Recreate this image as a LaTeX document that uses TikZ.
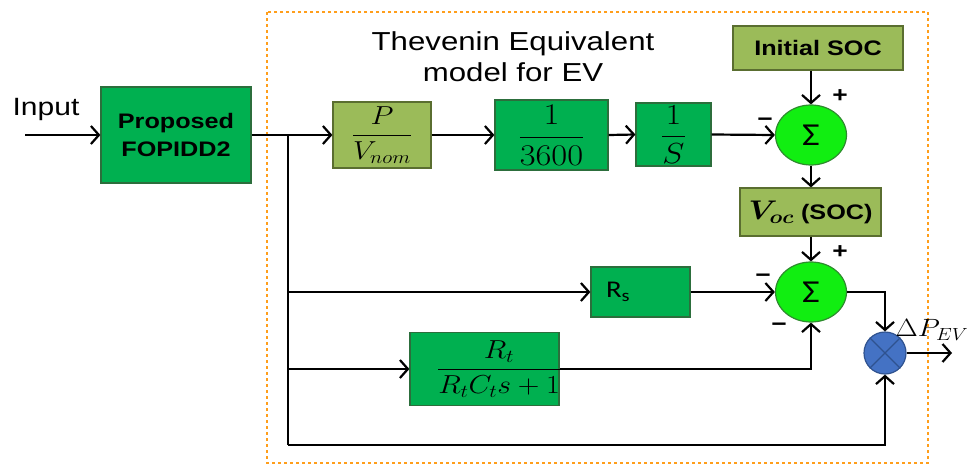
\RequirePackage{fix-cm}
\documentclass[tikz,border=0pt]{standalone}
\usepackage{amsmath}
\usepackage{fontspec}
\setmainfont{Liberation Sans}[FakeStretch=1.2]
\newfontfamily\calib{Carlito}[FakeStretch=1.2]
\usetikzlibrary{arrows.meta,shapes.geometric}
\newcommand{\wmath}[1]{\scalebox{1.15}[1]{#1}}
\definecolor{gfill}{HTML}{00B050}
\definecolor{gbord}{HTML}{2C6E3C}
\definecolor{ofill}{HTML}{9BBB59}
\definecolor{obord}{HTML}{5A6E30}
\definecolor{sfill}{HTML}{11EE11}
\definecolor{sbord}{HTML}{2E8B2E}
\definecolor{bfill}{HTML}{4472C4}
\definecolor{bbord}{HTML}{2F528F}
\definecolor{dorange}{HTML}{FF9E1B}
\begin{document}
\begin{tikzpicture}[x=1pt,y=-1pt,
  wire/.style={line width=2.2pt, black},
  arr/.style={wire,-{Straight Barb[length=8pt,width=18pt]}},
  gbox/.style={draw=gbord, fill=gfill, line width=1.2pt, inner sep=0pt},
  obox/.style={draw=obord, fill=ofill, line width=1.2pt, inner sep=0pt},
  sumnode/.style={ellipse, draw=sbord, fill=sfill, line width=1.2pt, minimum width=71pt, minimum height=60pt, inner sep=0pt},
  sgn/.style={font=\fontsize{22}{22}\selectfont\bfseries, inner sep=0pt}
]
\useasboundingbox (0,0) rectangle (972,466);

% dotted frame
\draw[dorange, line width=2.6pt, dash pattern=on 3pt off 3pt] (267,12) rectangle (928,463);

\node[font=\fontsize{25}{30}\selectfont] (inp) at (46,109) {Input};
\coordinate (in0) at (25,135);
\node[gbox, minimum width=150pt, minimum height=96pt, align=center, font=\fontsize{21}{28}\selectfont\bfseries] (pid) at (176,135) {Proposed\\FOPIDD2};

\node[font=\fontsize{26}{31}\selectfont, align=center] (title) at (513,57) {Thevenin Equivalent\\model for EV};

\node[obox, minimum width=98pt, minimum height=66pt, font=\fontsize{26}{30}\selectfont] (pv) at (382,135) {\wmath{$\dfrac{P}{V_{nom}}$}};
\node[gbox, minimum width=113pt, minimum height=70pt, font=\fontsize{30}{34}\selectfont] (k) at (551.5,135) {\wmath{$\dfrac{1}{3600}$}};
\node[gbox, minimum width=75pt, minimum height=63pt, font=\fontsize{29}{33}\selectfont] (int) at (673.5,134.5) {\wmath{$\dfrac{1}{S}$}};
\node[sumnode] (s1) at (811,135) {{\calib\fontsize{32}{32}\selectfont Σ}};
\node[obox, minimum width=170pt, minimum height=44pt, font=\bfseries\fontsize{21}{24}\selectfont] (soc) at (818,48) {Initial SOC};
\node[obox, minimum width=141pt, minimum height=48pt, font=\bfseries\fontsize{21}{24}\selectfont] (voc) at (810.5,212) {{\fontsize{27}{30}\selectfont\wmath{$\boldsymbol{V_{oc}}$}} (SOC)};
\node[sumnode] (s2) at (811,292) {{\calib\fontsize{32}{32}\selectfont Σ}};
\node[gbox, minimum width=99pt, minimum height=50pt, text width=69pt, align=left, font=\calib\fontsize{24}{28}\selectfont] (rs) at (640.5,292) {R{\fontsize{17}{17}\selectfont\raisebox{-4pt}{s}}};
\node[gbox, minimum width=149pt, minimum height=73pt] (rt) at (484.5,369) {};
\node[inner sep=0pt, font=\fontsize{26}{30}\selectfont] (rtf) at (499,369) {\wmath{$\dfrac{R_t}{R_tC_ts+1}$}};

\node[circle, draw=bbord, fill=bfill, line width=1.2pt, minimum size=42pt, inner sep=0pt] (mul) at (885,353) {};
\draw[bbord, line width=1.2pt] (mul.45) -- (mul.225) (mul.135) -- (mul.315);
\coordinate (out) at (952,353);
\node[font=\fontsize{25}{28}\selectfont, inner sep=0pt] (dp) at (932,330) {\wmath{$\Delta P_{EV}$}};

\node[sgn] (m1) at (765,122) {−};
\node[sgn] (p1) at (840,96) {+};
\node[sgn] (p2) at (840,252) {+};
\node[sgn] (m2) at (763,278) {−};
\node[sgn] (m3) at (779,327) {−};

\coordinate (b1) at (288,135);
\coordinate (b2) at (288,292);
\coordinate (b3) at (288,369);
\coordinate (b4) at (288,445);

\draw[arr] (in0) -- (pid.west);
\draw[wire] (pid.east) -- (b1) -- (b4);
\draw[arr] (b1) -- (pv.west);
\draw[arr] (pv.east) -- (k.west);
\draw[arr] (k.east) -- (int.west);
\draw[arr] (int.east) -- (s1.west);
\draw[arr] (soc.south -| s1) -- (s1.north);
\draw[arr] (s1.south) -- (voc.north -| s1);
\draw[arr] (voc.south -| s2) -- (s2.north);
\draw[arr] (b2) -- (rs.west);
\draw[arr] (rs.east) -- (s2.west);
\draw[arr] (b3) -- (rt.west);
\draw[arr] (rt.east) -| (s2.south);
\draw[arr] (s2.east) -| (mul.north);
\draw[arr] (b4) -| (mul.south);
\draw[arr] (mul.east) -- (out);
\end{tikzpicture}
\end{document}
